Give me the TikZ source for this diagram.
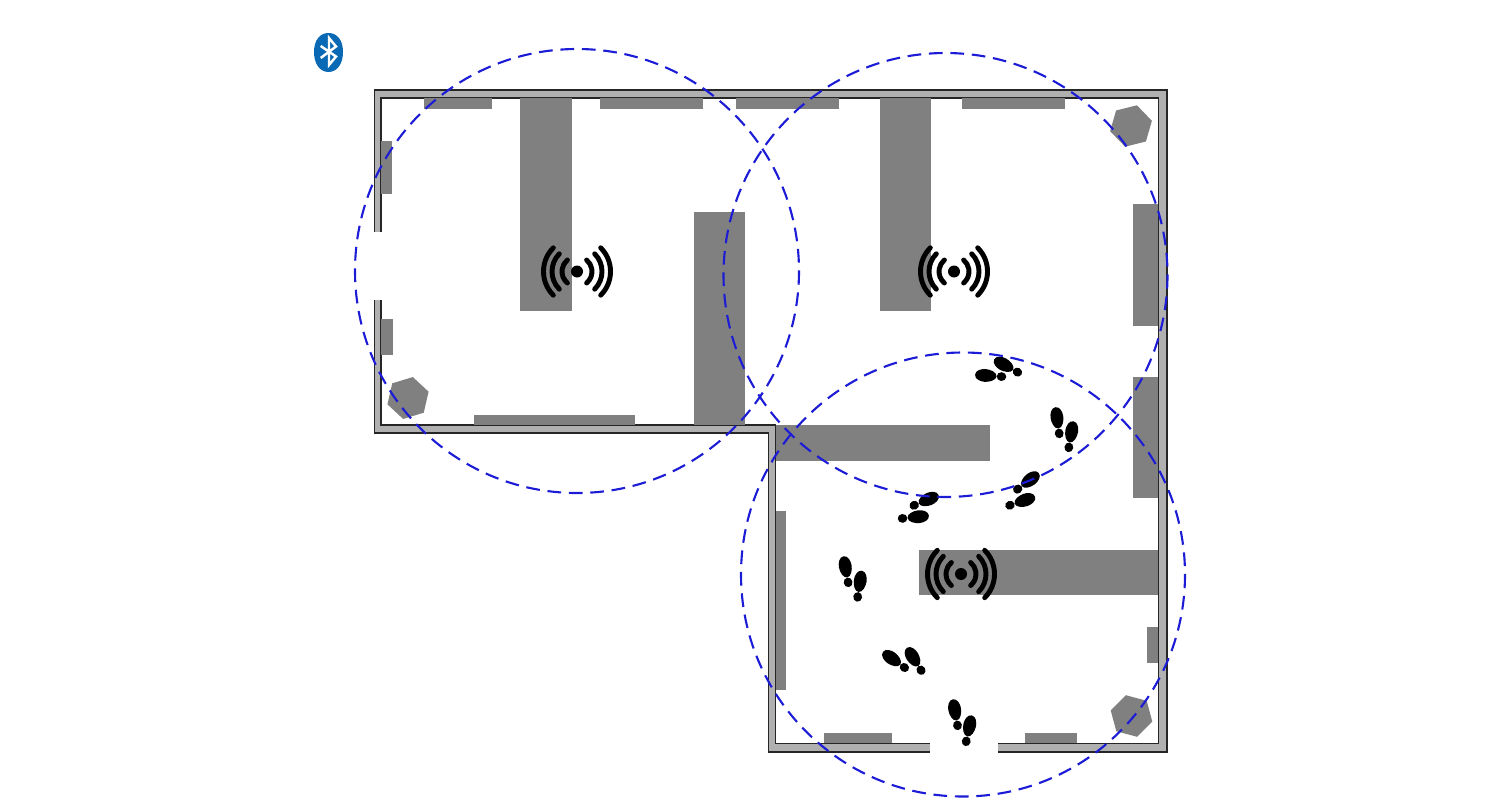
\documentclass[tikz,border=0pt]{standalone}
\usepackage{tikz}
\usetikzlibrary{shapes.geometric}
\definecolor{wallgray}{HTML}{B0B0B0}
\definecolor{blockgray}{HTML}{808080}
\definecolor{rangeblue}{HTML}{1C1CD6}
\definecolor{btblue}{HTML}{0A69B4}
\tikzset{
  block/.style={fill=blockgray},
  wallline/.style={draw=black!85, line width=0.42pt, line join=miter},
  rangecircle/.style={draw=rangeblue, line width=0.6pt, dash pattern=on 3.9pt off 2.2pt},
  wave/.style={line width=1.4pt, line cap=round},
  hexa/.style={regular polygon, regular polygon sides=6, minimum size=0.43cm, inner sep=0pt, outer sep=0pt, fill=blockgray}
}
\begin{document}
\begin{tikzpicture}[x=0.01cm,y=-0.01cm]
      \useasboundingbox (0,0) rectangle (1500,800);

      \draw[wallline, fill=wallgray] (374.5,90) -- (1167,90) -- (1167,752) -- (768.5,752) -- (768.5,433) -- (374.5,433) -- cycle;
      \draw[wallline, fill=white] (381,98) -- (1158.5,98) -- (1158.5,743.5) -- (775.5,743.5) -- (775.5,425) -- (381,425) -- cycle;
      \fill[white] (372,232) rectangle (382,300);
      \fill[white] (930,742) rectangle (998,754);

      \foreach \xa/\ya/\xb/\yb in {424/98/492/109, 600/98/703/109, 736/98/839/109, 962/98/1065/109,
        520/98/572/311, 880/98/931/311, 694/212/745/425,
        381/141/392/194, 381/319/393/355, 474/415/635/425,
        1133/204/1158/326, 1133/377/1158/498, 1147/627/1158/663,
        776/425/990/461, 919/550/1158/595, 776/511/786/690,
        824/733/892/743, 1025/733/1077/743}
        \fill[block] (\xa,\ya) rectangle (\xb,\yb);

      \node[hexa, rotate=14] (hexatop) at (1131,126) {};
      \node[hexa, rotate=17] (hexaleft) at (408,398) {};
      \node[hexa, rotate=-15] (hexabottom) at (1131.5,716) {};

      \foreach \wx/\wy in {577/271.5, 954/271.5, 961/574} {
        \fill (\wx,\wy) circle (6);
        \foreach \r/\a in {15/50, 25/45, 33.5/45} {
          \draw[wave] ({\wx+\r*cos(\a)},{\wy+\r*sin(\a)}) arc[start angle=\a, end angle=-\a, radius=\r];
          \draw[wave] ({\wx-\r*cos(\a)},{\wy+\r*sin(\a)}) arc[start angle=180-\a, end angle=180+\a, radius=\r];
        }
      }

      \foreach \x/\y/\rot in {846.6/574/-10, 859/588.5/9,
        1058/425/-8, 1070.3/439/10,
        1010/368/-61, 993/376/-86,
        1024.5/484/53, 1018/502.5/71,
        922/502/67, 911/517.5/84,
        897.5/662.5/-54, 916.5/663/-32,
        956/717/-10, 968/733/12}
      {
        \begin{scope}[shift={(\x,\y)}, rotate=-\rot]
          \fill (0,-18) .. controls (4.5,-18) and (6.4,-12) .. (6.4,-8)
            .. controls (6.4,-3) and (4,3.5) .. (0,3.5)
            .. controls (-4,3.5) and (-6.4,-3) .. (-6.4,-8)
            .. controls (-6.4,-12) and (-4.5,-18) .. (0,-18) -- cycle;
          \fill (0,8.5) ellipse (4.4 and 4.8);
        \end{scope}
      }

      \fill[btblue] (328.5,33) .. controls (337,33) and (343,40) .. (343,52)
        .. controls (343,64) and (337,72) .. (328.5,72)
        .. controls (320,72) and (314,64) .. (314,52)
        .. controls (314,40) and (320,33) .. (328.5,33) -- cycle;
      \draw[white, line width=0.7pt] (320.7,46) -- (336,56.5) -- (329,65) -- (329,38) -- (336,46.5) -- (320.7,58);

      \draw[rangecircle] (577,271) circle (222);
      \draw[rangecircle] (945.5,275) circle (222);
      \draw[rangecircle] (963,574.5) circle (222);

    \end{tikzpicture}
\end{document}
